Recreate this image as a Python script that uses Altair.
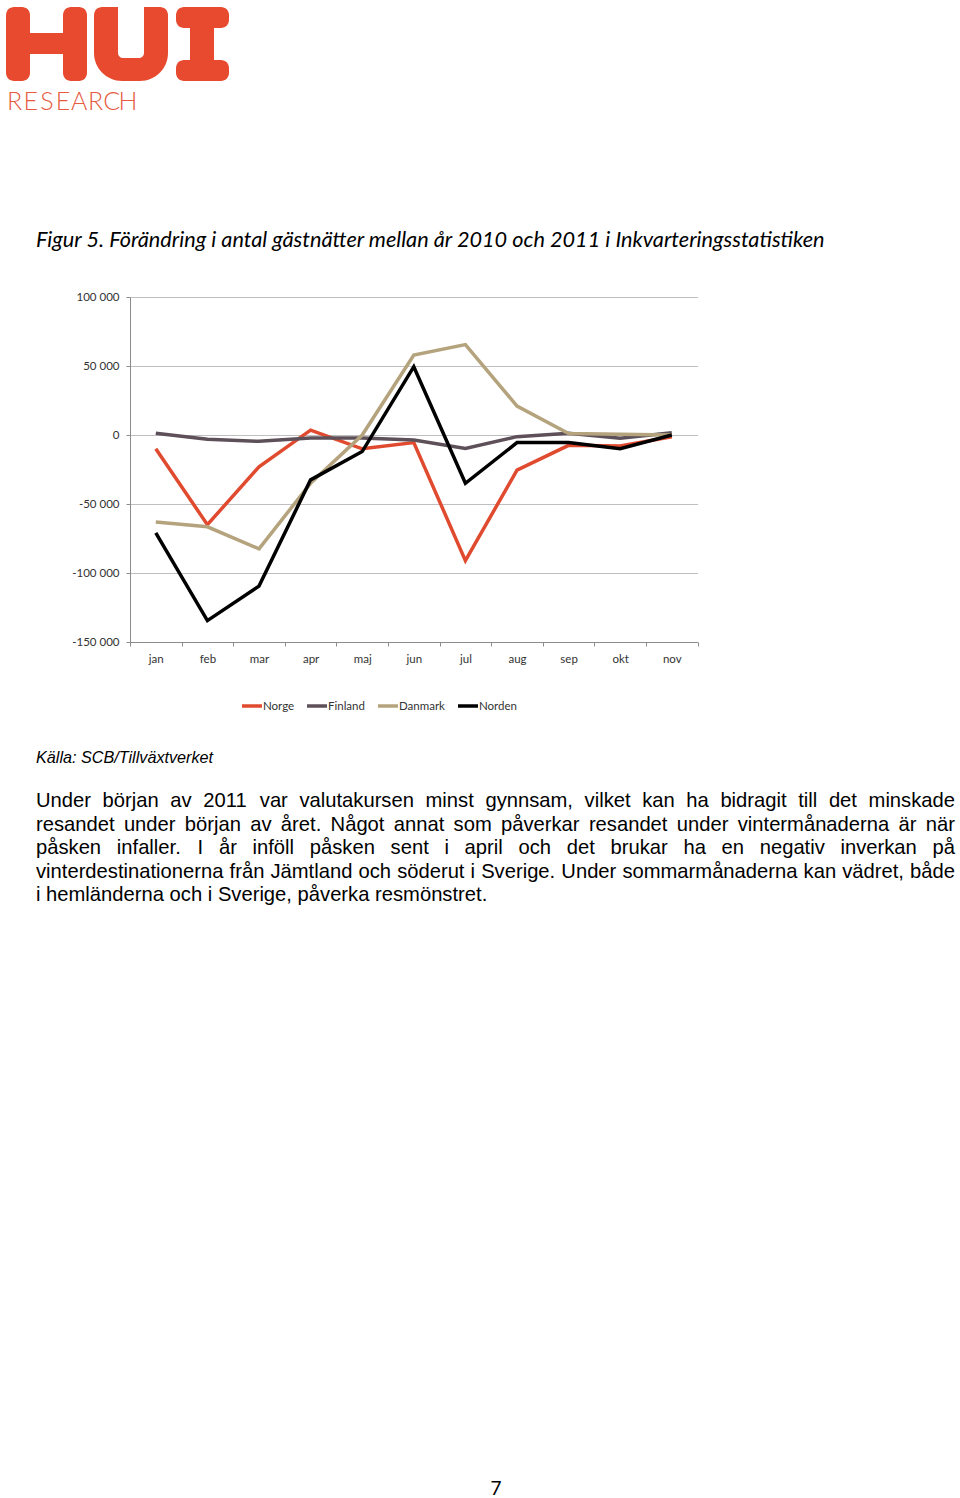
import altair as alt
import pandas as pd

# ---------------- data ----------------
months = ["jan", "feb", "mar", "apr", "maj", "jun", "jul", "aug", "sep", "okt", "nov"]
norge = [-10000, -65000, -23000, 3500, -10000, -5500, -91000, -25500, -7500, -8000, -1200]
finland = [1200, -3100, -4600, -2200, -2200, -3600, -9700, -1200, 1200, -2400, 1700]
danmark = [-63000, -66500, -82500, -35000, 0, 58000, 65500, 21000, 1000, 500, 0]
norden = [-71000, -134500, -109500, -32500, -12000, 49500, -35000, -5500, -5500, -10000, 0]
series = ["Norge", "Finland", "Danmark", "Norden"]
colors = ["#E04A2F", "#5E5059", "#B4A37D", "#000000"]
widths = [3.5, 3.5, 3.5, 4.2]
y_ticks = [-150000, -100000, -50000, 0, 50000, 100000]

title_text = "Figur 5. Förändring i antal gästnätter mellan år 2010 och 2011 i Inkvarteringsstatistiken"
source_text = "Källa: SCB/Tillväxtverket"
paragraph_lines = [
    "Under början av 2011 var valutakursen minst gynnsam, vilket kan ha bidragit till det minskade",
    "resandet under början av året. Något annat som påverkar resandet under vintermånaderna är när",
    "påsken infaller. I år inföll påsken sent i april och det brukar ha en negativ inverkan på",
    "vinterdestinationerna från Jämtland och söderut i Sverige. Under sommarmånaderna kan vädret, både",
    "i hemländerna och i Sverige, påverka resmönstret.",
]
page_number = "7"
logo_word = "RESEARCH"

# ---------------- geometry ----------------
PAGE_W, PAGE_H = 960, 1498
OX, OY = 130, 297          # plot origin on page
W, H = 567.6, 345          # plot area
LOGO = "#E84A2F"

rows = []
for name, vals in zip(series, [norge, finland, danmark, norden]):
    for i, (m, v) in enumerate(zip(months, vals)):
        rows.append({"month": m, "xpos": i + 0.5, "series": name, "value": v})
df = pd.DataFrame(rows)

month_arr = "[" + ",".join("'%s'" % m for m in months) + "]"
x_label_expr = "datum.value < %d ? %s[datum.value] : ''" % (len(months), month_arr)
y_label_expr = "(datum.value < 0 ? '-' : '') + replace(format(abs(datum.value), ','), ',', ' ')"

FONT_CHART = "Lato"
LABEL_SIZE = 11.5

lines = alt.Chart(df).mark_line().encode(
    x=alt.X("xpos:Q",
            scale=alt.Scale(domain=[0, len(months)], nice=False, zero=False),
            axis=alt.Axis(values=list(range(len(months) + 1)), tickSize=4, labelOffset=W / len(months) / 2,
                          labelExpr=x_label_expr, grid=False, domainColor="#8C8C8C", tickColor="#8C8C8C",
                          labelFont=FONT_CHART, labelFontSize=LABEL_SIZE, labelColor="#333333", labelPadding=7,
                          labelFlush=False, labelOverlap=False, title=None)),
    y=alt.Y("value:Q",
            scale=alt.Scale(domain=[y_ticks[0], y_ticks[-1]], nice=False),
            axis=alt.Axis(values=y_ticks, labelExpr=y_label_expr, tickSize=4, grid=True,
                          gridColor="#BFBFBF", domainColor="#8C8C8C", tickColor="#8C8C8C",
                          labelFont=FONT_CHART, labelFontSize=LABEL_SIZE, labelColor="#333333", labelPadding=7,
                          title=None)),
    color=alt.Color("series:N", scale=alt.Scale(domain=series, range=colors), legend=None),
    strokeWidth=alt.StrokeWidth("series:N", scale=alt.Scale(domain=series, range=widths), legend=None),
    order=alt.Order("xpos:Q"),
)

# ---------------- manual legend (Excel style) ----------------
legend_left = [242, 307, 378, 458]
LEG_Y = 706
leg_df = pd.DataFrame([
    {"series": s, "x": lx - OX, "x2": lx + 20 - OX, "tx": lx + 21 - OX, "y": LEG_Y - OY, "ty": LEG_Y + 4 - OY}
    for s, lx in zip(series, legend_left)
])
leg_lines = alt.Chart(leg_df).mark_rule(strokeWidth=3.5).encode(
    x=alt.X("x:Q", scale=None, axis=None), x2="x2:Q",
    y=alt.Y("y:Q", scale=None, axis=None),
    color=alt.Color("series:N", scale=alt.Scale(domain=series, range=colors), legend=None),
)
leg_text = alt.Chart(leg_df).mark_text(align="left", baseline="alphabetic", font=FONT_CHART,
                                       fontSize=LABEL_SIZE, color="#333333").encode(
    x=alt.X("tx:Q", scale=None, axis=None),
    y=alt.Y("ty:Q", scale=None, axis=None),
    text="series:N",
)

# ---------------- Arial widths (Liberation Sans metrics) ----------------
AW = {' ': 278, 'a': 556, 'b': 556, 'c': 500, 'd': 556, 'e': 556, 'f': 278, 'g': 556, 'h': 556,
      'i': 222, 'j': 222, 'k': 500, 'l': 222, 'm': 833, 'n': 556, 'o': 556, 'p': 556, 'q': 556,
      'r': 333, 's': 500, 't': 278, 'u': 556, 'v': 500, 'w': 722, 'x': 500, 'y': 500, 'z': 500,
      'å': 556, 'ä': 556, 'ö': 556, 'A': 667, 'B': 667, 'C': 722, 'D': 722, 'E': 667, 'F': 611,
      'G': 778, 'H': 722, 'I': 278, 'J': 500, 'K': 667, 'L': 556, 'M': 833, 'N': 722, 'O': 778,
      'P': 667, 'R': 722, 'S': 667, 'T': 611, 'U': 722, 'V': 667, '.': 278, ',': 278, ':': 278,
      '/': 278}


def tw(s, size):
    return sum(AW.get(c, 556) for c in s) * size / 1000.0


PARA_SIZE = 20.2
PARA_LEFT, PARA_RIGHT = 36, 955
PARA_BASE, PARA_STEP = 807, 23.5
words = []
for li, line in enumerate(paragraph_lines):
    ws = line.split(" ")
    base = PARA_BASE + li * PARA_STEP
    if li < len(paragraph_lines) - 1 and len(ws) > 1:
        total = sum(tw(w, PARA_SIZE) for w in ws)
        gap = (PARA_RIGHT - PARA_LEFT - total) / (len(ws) - 1)
    else:
        gap = tw(" ", PARA_SIZE)
    x = PARA_LEFT
    for w in ws:
        words.append({"x": x - OX, "y": base - OY, "text": w})
        x += tw(w, PARA_SIZE) + gap
words_df = pd.DataFrame(words)


def text_layer(data, align="left", **mark):
    return alt.Chart(pd.DataFrame(data)).mark_text(align=align, baseline="alphabetic", **mark).encode(
        x=alt.X("x:Q", scale=None, axis=None),
        y=alt.Y("y:Q", scale=None, axis=None),
        text="text:N",
    )


para = text_layer(words_df, font="Liberation Sans", fontSize=PARA_SIZE, color="#000000")
title = text_layer([{"x": 36 - OX, "y": 247 - OY, "text": title_text}],
                   font="Lato", fontStyle="italic", fontSize=21.7, color="#000000")
source = text_layer([{"x": 36 - OX, "y": 762.5 - OY, "text": source_text}],
                    font="Liberation Sans", fontStyle="italic", fontSize=16.2, color="#000000")
pnum = text_layer([{"x": 496 - OX, "y": 1495 - OY, "text": page_number}], align="center",
                  font="Lato", fontSize=19, color="#000000")

research = text_layer([{"x": 14.5 + 16.2 * i - OX, "y": 110 - OY, "text": ch} for i, ch in enumerate(logo_word)],
                      align="center", font="Lato", fontWeight=300, fontSize=25, color="#E65A42")


def rect_layer(data, color=LOGO, **mark):
    return alt.Chart(pd.DataFrame(data)).mark_rect(color=color, **mark).encode(
        x=alt.X("x:Q", scale=None, axis=None), x2="x2:Q",
        y=alt.Y("y:Q", scale=None, axis=None), y2="y2:Q",
    )


def R(x, y, x2, y2):
    return {"x": x - OX, "y": y - OY, "x2": x2 - OX, "y2": y2 - OY}


logo_bars = rect_layer([R(6, 7, 30, 81), R(63, 7, 87, 81), R(176, 7, 229, 28), R(176, 60, 229, 81)],
                       cornerRadius=8)
logo_plain = rect_layer([R(29, 33, 64, 54), R(190, 20, 214, 68)])
logo_u = rect_layer([R(94, 7, 168, 81)], cornerRadiusTopLeft=8, cornerRadiusTopRight=8,
                    cornerRadiusBottomLeft=28, cornerRadiusBottomRight=28)
logo_u_in = rect_layer([R(118, 0, 144, 58)], color="#FFFFFF", cornerRadiusBottomLeft=5,
                       cornerRadiusBottomRight=5)

chart = alt.layer(
    logo_bars, logo_plain, logo_u, logo_u_in, research, title, source, para, pnum,
    leg_lines, leg_text, lines
).resolve_scale(
    x="independent", y="independent", color="independent", strokeWidth="independent"
).properties(
    width=W, height=H,
    padding={"left": OX, "top": OY, "right": PAGE_W - OX - W, "bottom": PAGE_H - OY - H},
    autosize=alt.AutoSizeParams(type="none"),
    background="#FFFFFF",
).configure_view(strokeWidth=0)

chart.save("out.html", embed_options={"renderer": "svg", "actions": False})
